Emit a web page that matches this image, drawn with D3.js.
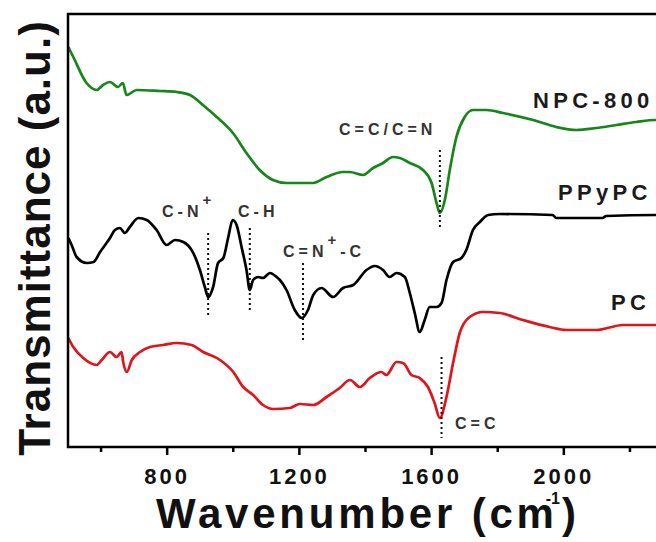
<!DOCTYPE html>
<html>
<head>
<meta charset="utf-8">
<script src="https://cdn.jsdelivr.net/npm/d3@7"></script>
<style>
  html, body { margin: 0; padding: 0; background: #fff; }
  svg { display: block; }
  text { font-family: "Liberation Sans", Arial, sans-serif; font-weight: bold; }
</style>
</head>
<body>
<svg id="chart" width="656" height="542"></svg>
<script>
// ---- data (wavenumber cm^-1, transmittance a.u. with vertical offsets) ----
const npcWave = [501,516,556,587,606,627,651,666,677,708,778,829,869,908,950,999,1040,1080,1120,1161,1241,1282,1331,1352,1393,1423,1453,1483,1504,1534,1574,1600,1615,1625,1640,1655,1675,1700,1725,1766,1816,1907,1977,2038,2098,2159,2219,2278,2300];
const npcVal  = [400,390,364,357,362,365,360,364,352,357,356,355,352,342,330,314,294,277,267,264,264,270,275,275,272,279,284,290,289,284,277,264,244,234,247,277,310,330,337,337,334,327,320,317,319,322,325,327,327];

const ppyWave = [501,511,526,557,577,597,627,642,657,672,687,713,738,768,798,824,849,879,899,914,924,939,954,970,985,998,1010,1025,1040,1050,1060,1075,1090,1111,1131,1141,1161,1186,1207,1226,1242,1267,1302,1332,1363,1403,1428,1453,1473,1494,1519,1534,1549,1564,1579,1594,1615,1630,1645,1665,1690,1705,1725,1746,1771,1806,1966,1977,2117,2128,2278,2300];
const ppyVal  = [209,202,190,184,185,195,209,217,219,214,220,229,227,217,202,207,205,194,177,160,150,160,184,189,210,227,222,200,177,157,167,170,169,174,170,167,157,137,129,137,152,159,150,159,162,177,181,177,170,174,170,154,134,115,127,140,140,144,167,185,189,197,217,225,232,233,232,229,229,231,232,232];

const pcWave = [501,516,546,587,602,627,647,662,667,678,693,718,748,788,829,874,909,960,1000,1030,1060,1090,1121,1171,1201,1242,1282,1322,1353,1383,1413,1448,1463,1494,1514,1539,1564,1589,1609,1625,1645,1665,1685,1715,1756,1806,1876,1957,2008,2098,2179,2278,2300];
const pcVal  = [109,100,89,82,87,95,90,95,85,75,87,95,100,102,104,102,95,87,75,60,52,42,38,39,43,42,50,59,67,60,69,75,72,85,84,72,69,60,44,29,50,84,114,130,135,134,127,120,117,117,122,122,122];

const seriesNames  = ["NPC-800", "PPyPC", "PC"];
const seriesColors = ["#17861a", "#000000", "#e0141b"];

const majorTicks = [800, 1200, 1600, 2000];
const minorTicks = [600, 1000, 1400, 1800, 2200];

// annotation markers: wavenumber, value range of dotted line, label
const markWave  = [924, 1050, 1211, 1625, 1630];
const markTop   = [214, 219, 184, 297, 90];
const markBot   = [132, 135, 104, 217, 9];
const markLabel = ["C-N+", "C-H", "C=N+-C", "C=C/C=N", "C=C"];

// ---- layout ----
const svg = d3.select("#chart");
const x = d3.scaleLinear().domain([500, 2300]).range([68, 663]);
const y = d3.scaleLinear().domain([0, 433]).range([447, 14]);

const line = d3.line()
  .x(d => x(d[0]))
  .y(d => y(d[1]))
  .curve(d3.curveMonotoneX);

const allSeries = [
  d3.zip(npcWave, npcVal),
  d3.zip(ppyWave, ppyVal),
  d3.zip(pcWave, pcVal)
];

const plot = svg.append("g");
allSeries.forEach((pts, i) => {
  plot.append("path")
    .datum(pts)
    .attr("fill", "none")
    .attr("stroke", seriesColors[i])
    .attr("stroke-width", 2.7)
    .attr("stroke-linejoin", "round")
    .attr("d", line);
});

// dotted marker lines
markWave.forEach((w, i) => {
  plot.append("line")
    .attr("x1", x(w)).attr("x2", x(w))
    .attr("y1", y(markTop[i])).attr("y2", y(markBot[i]))
    .attr("stroke", "#111")
    .attr("stroke-width", 2)
    .attr("stroke-dasharray", "2,3");
});

// frame
svg.append("rect")
  .attr("x", x(500)).attr("y", y(433))
  .attr("width", x(2300) - x(500)).attr("height", y(0) - y(433))
  .attr("fill", "none").attr("stroke", "#000").attr("stroke-width", 2.5);

// bottom axis ticks
const axis = svg.append("g").attr("transform", `translate(0,${y(0)})`);
axis.selectAll(".maj").data(majorTicks).enter().append("line")
  .attr("x1", d => x(d)).attr("x2", d => x(d))
  .attr("y1", 0).attr("y2", 8)
  .attr("stroke", "#000").attr("stroke-width", 2.5);
axis.selectAll(".min").data(minorTicks).enter().append("line")
  .attr("x1", d => x(d)).attr("x2", d => x(d))
  .attr("y1", 0).attr("y2", 5)
  .attr("stroke", "#000").attr("stroke-width", 2.5);
axis.selectAll(".lab").data(majorTicks).enter().append("text")
  .attr("x", d => x(d)).attr("y", 37)
  .attr("text-anchor", "middle")
  .attr("font-size", 22)
  .attr("letter-spacing", 3)
  .attr("fill", "#111")
  .text(d => d);

// axis titles
const xt = svg.append("text")
  .attr("x", 156).attr("y", 528)
  .attr("font-size", 42)
  .attr("letter-spacing", 3.8)
  .attr("fill", "#111");
xt.append("tspan").text("Wavenumber (cm");
xt.append("tspan").attr("dx", -12).attr("dy", -24).attr("font-size", 16).attr("letter-spacing", 0).text("-1");
xt.append("tspan").attr("dx", 2).attr("dy", 24).text(")");

svg.append("text")
  .attr("transform", "translate(50,238) rotate(-90)")
  .attr("text-anchor", "middle")
  .attr("font-size", 44)
  .attr("letter-spacing", 1)
  .attr("fill", "#111")
  .text("Transmittance (a.u.)");

// series labels
const seriesLabelPos = [[533, 108], [558, 200], [611, 310]];
seriesNames.forEach((n, i) => {
  svg.append("text")
    .attr("x", seriesLabelPos[i][0]).attr("y", seriesLabelPos[i][1])
    .attr("font-size", 22)
    .attr("letter-spacing", 4.3)
    .attr("fill", "#1a1a1a")
    .text(n);
});

// annotation labels
function annot(xp, yp, parts) {
  const t = svg.append("text").attr("x", xp).attr("y", yp)
    .attr("font-size", 16).attr("letter-spacing", 4).attr("fill", "#333");
  parts.forEach(p => {
    const s = t.append("tspan").text(p.t);
    if (p.sup) s.attr("dy", -12).attr("font-size", 15);
    if (p.down) s.attr("dy", 12);
  });
}
annot(162, 217, [{t: "C-N"}, {t: "+", sup: true}]);
annot(238, 217, [{t: "C-H"}]);
annot(283, 257, [{t: "C=N"}, {t: "+", sup: true}, {t: "-C", down: true}]);
annot(339, 135, [{t: "C=C/C=N"}]);
annot(455, 429, [{t: "C=C"}]);
</script>
</body>
</html>
